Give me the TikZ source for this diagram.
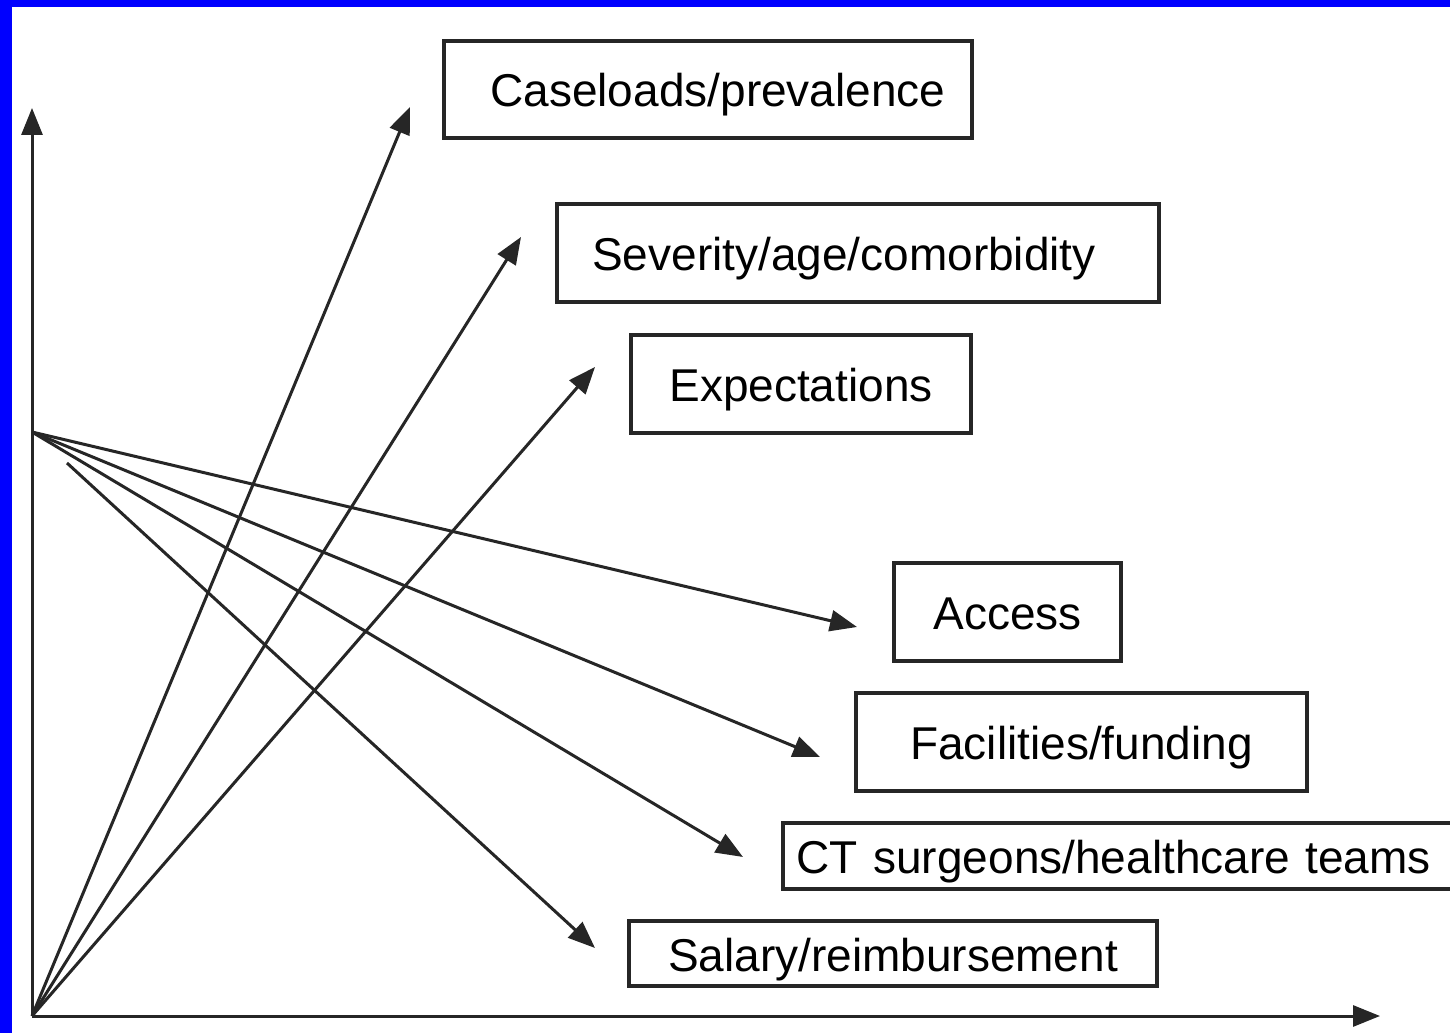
\documentclass[tikz,border=0pt]{standalone}
\usepackage{fontspec}
\setmainfont{Liberation Sans}
\usetikzlibrary{arrows.meta}

\begin{document}
\begin{tikzpicture}[x=1pt,y=1pt,
  box/.style={draw=black!85,line width=3.5pt,inner sep=0pt,text height=40pt,text depth=5pt,font=\fontsize{46}{50}\selectfont},
  arr/.style={draw=black!85,line width=3pt,-{Triangle[length=27pt,width=21pt]}}]
  \useasboundingbox (0,0) rectangle (1450,1033);
  \clip (0,0) rectangle (1450,1033);
  \fill[blue] (0,0) rectangle (1450,1033);
  \fill[white] (12,0) rectangle (1450,1026);

  % boxes
  \node[box,minimum width=528pt,minimum height=97pt] (case) at (708,943.5) {\hspace*{20pt}Caseloads/prevalence};
  \node[box,minimum width=602pt,minimum height=98pt] (sev) at (858,780) {Severity/age/comorbidity\hspace*{28pt}};
  \node[box,minimum width=340pt,minimum height=98pt] (exp) at (801,649) {Expectations};
  \node[box,minimum width=227pt,minimum height=98pt] (acc) at (1007.5,421) {Access};
  \node[box,minimum width=451pt,minimum height=98pt] (fac) at (1081.5,291) {Facilities/funding};
  \node[box,minimum width=690pt,minimum height=66pt,anchor=west,text width=670pt,align=left] (ct) at (781,177) {\hspace*{4pt}CT surgeons/healthcare teams};
  \node[box,minimum width=528pt,minimum height=65pt] (sal) at (893,79.5) {Salary/reimbursement};

  % axes
  \coordinate (o) at (32,17);
  \coordinate (ytip) at (32,925);
  \coordinate (xtip) at (1380,17);
  \draw[arr] (o) -- (ytip);
  \draw[arr] (o) -- (xtip);

  \coordinate (p) at (32,601);
  \coordinate (q) at (67,570);
  \coordinate (tcase) at (410,926);
  \coordinate (tsev) at (521,796);
  \coordinate (texp) at (595,666);
  \coordinate (tacc) at (857,406);
  \coordinate (tfac) at (820,276);
  \coordinate (tct) at (743,176);
  \coordinate (tsal) at (595,85);

  \draw[arr] (o) -- (tcase);
  \draw[arr] (o) -- (tsev);
  \draw[arr] (o) -- (texp);
  \draw[arr] (p) -- (tacc);
  \draw[arr] (p) -- (tfac);
  \draw[arr] (p) -- (tct);
  \draw[arr] (q) -- (tsal);
\end{tikzpicture}
\end{document}
